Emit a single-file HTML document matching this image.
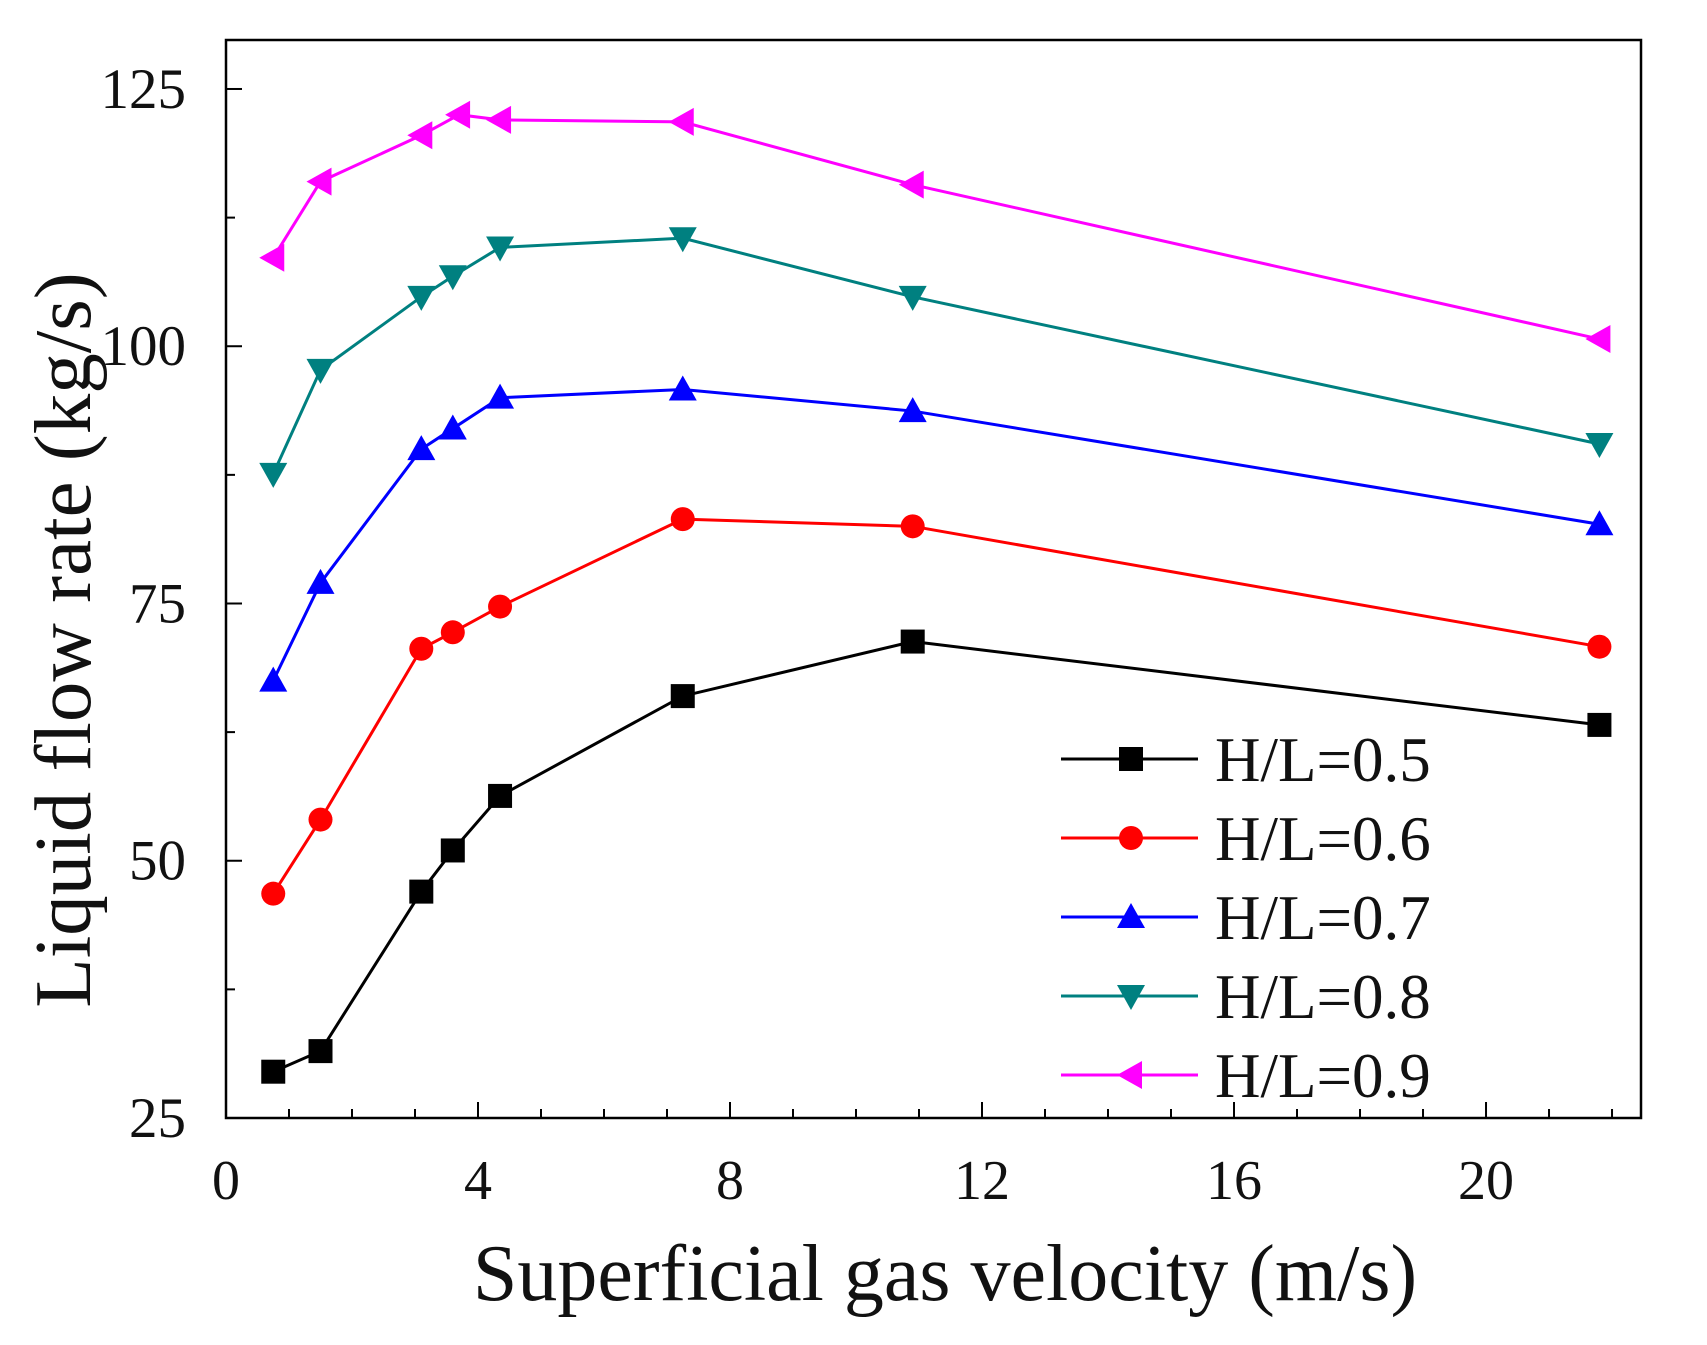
<!DOCTYPE html>
<html><head><meta charset="utf-8"><style>
html,body{margin:0;padding:0;background:#fff;}
svg{display:block;font-family:"Liberation Serif",serif;}
</style></head><body>
<svg id="chart" width="1707" height="1345" viewBox="0 0 1707 1345"></svg>
<script>
const xValues=[0.75,1.5,3.1,3.6,4.35,7.25,10.9,21.8];
const xValues09=[0.75,1.5,3.1,3.7,4.35,7.25,10.9,21.8];
const s05=[29.5,31.5,47,51,56.3,66,71.3,63.2];
const s06=[46.8,54,70.6,72.2,74.7,83.2,82.5,70.8];
const s07=[67.5,77,90,92,95,95.8,93.7,82.7];
const s08=[87.6,97.7,104.8,106.8,109.6,110.5,104.8,90.5];
const s09=[108.6,116,120.5,122.5,122,121.8,115.7,100.7];
const seriesNames=["H/L=0.5","H/L=0.6","H/L=0.7","H/L=0.8","H/L=0.9"];
const xTicks=[0,4,8,12,16,20];
const yTicks=[25,50,75,100,125];

const L=226,R=1641,T=40,B=1118;
const xMin=0,xMax=22.46,yMin=25,yMax=129.76;
const sx=v=>L+(v-xMin)/(xMax-xMin)*(R-L);
const sy=v=>B-(v-yMin)/(yMax-yMin)*(B-T);
const svg=document.getElementById('chart');
const NS='http://www.w3.org/2000/svg';
function mk(tag,attrs,parent){const e=document.createElementNS(NS,tag);for(const k in attrs)e.setAttribute(k,attrs[k]);(parent||svg).appendChild(e);return e;}

const frame=mk('rect',{x:L,y:T,width:R-L,height:B-T,fill:'none',stroke:'#000','stroke-width':2.5});



for(let v=0;v<=22;v+=1){
  const major=v%4===0;
  const t=mk('line',{x1:sx(v),x2:sx(v),y1:B,y2:B-(major?16:9),stroke:'#000','stroke-width':2});
  
  
}
xTicks.forEach(v=>{
  const t=mk('text',{x:sx(v),y:1199,'font-size':56,'text-anchor':'middle',fill:'#111'});
  t.textContent=v;
  
  
});
for(let v=25;v<=125;v+=12.5){
  const major=(v%25)===0;
  const t=mk('line',{x1:L,x2:L+(major?16:9),y1:sy(v),y2:sy(v),stroke:'#000','stroke-width':2});
  
  
}
yTicks.forEach(v=>{
  const t=mk('text',{x:186,y:sy(v)+19,'font-size':57,'text-anchor':'end',fill:'#111'});
  t.textContent=v;
  
  
});
const xt=mk('text',{x:945,y:1300,'font-size':80,'text-anchor':'middle',fill:'#111'});
xt.textContent='Superficial gas velocity (m/s)';


const yt=mk('text',{x:0,y:0,'font-size':81,'text-anchor':'middle',fill:'#111',transform:'translate(90,640) rotate(-90)'});
yt.textContent='Liquid flow rate (kg/s)';



function marker(type,cx,cy,color,parent){
  const s=13;let e;
  if(type==='square')e=mk('rect',{x:cx-s+1,y:cy-s+1,width:2*s-2,height:2*s-2,fill:color},parent);
  else if(type==='circle')e=mk('circle',{cx:cx,cy:cy,r:s-1,fill:color},parent);
  else if(type==='up')e=mk('polygon',{points:`${cx},${cy-s-1} ${cx+s+1},${cy+s-2} ${cx-s-1},${cy+s-2}`,fill:color},parent);
  else if(type==='down')e=mk('polygon',{points:`${cx},${cy+s+1} ${cx+s+1},${cy-s+2} ${cx-s-1},${cy-s+2}`,fill:color},parent);
  else e=mk('polygon',{points:`${cx-s-1},${cy} ${cx+s-2},${cy-s-1} ${cx+s-2},${cy+s+1}`,fill:color},parent);
  return e;
}
const series=[
 {xs:xValues,ys:s05,color:'#000000',m:'square',name:'series-hl-0-5'},
 {xs:xValues,ys:s06,color:'#ff0000',m:'circle',name:'series-hl-0-6'},
 {xs:xValues,ys:s07,color:'#0000ff',m:'up',name:'series-hl-0-7'},
 {xs:xValues,ys:s08,color:'#008080',m:'down',name:'series-hl-0-8'},
 {xs:xValues09,ys:s09,color:'#ff00ff',m:'left',name:'series-hl-0-9'}
];
series.forEach(s=>{
  const g=mk('g',{});
  
  
  const pl=mk('polyline',{points:s.ys.map((v,i)=>sx(s.xs[i])+','+sy(v)).join(' '),fill:'none',stroke:s.color,'stroke-width':3},g);
  
  
  s.ys.forEach((v,i)=>{
    const p=marker(s.m,sx(s.xs[i]),sy(v),s.color,g);
    
    
  });
});
const lg=mk('g',{});


const rows=[759,838,917,996,1075];
series.forEach((s,i)=>{
  const g=mk('g',{},lg);
  
  
  mk('line',{x1:1061,x2:1198,y1:rows[i],y2:rows[i],stroke:s.color,'stroke-width':3},g);
  marker(s.m,1131,rows[i],s.color,g);
  const t=mk('text',{x:1215,y:rows[i]+22,'font-size':63,fill:'#111'},g);
  t.textContent=seriesNames[i];
});
</script>
</body></html>
